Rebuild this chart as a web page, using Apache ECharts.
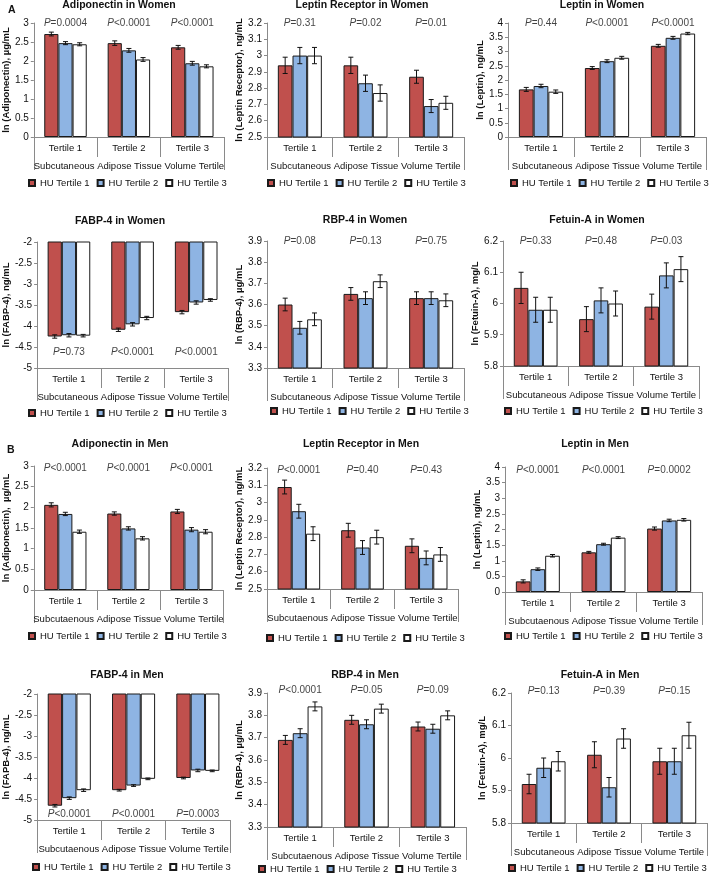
<!DOCTYPE html>
<html><head><meta charset="utf-8">
<script src="https://cdn.jsdelivr.net/npm/echarts@6/dist/echarts.min.js"></script>
<style>html,body{margin:0;padding:0;background:#fff}#c{width:709px;height:874px}</style>
</head><body><div id="c"></div><script>
// ---------- data ----------
const categories = ['Tertile 1', 'Tertile 2', 'Tertile 3'];
const huNames = ['HU Tertile 1', 'HU Tertile 2', 'HU Tertile 3'];
const satLabel = 'Subcutaneous Adipose Tissue Volume Tertile';
const satLabelTypo = 'Subcutaenous Adipose Tissue Volume Tertile';

const titles = ['Adiponectin in Women', 'Leptin Receptor in Women', 'Leptin in Women',
  'FABP-4 in Women', 'RBP-4 in Women', 'Fetuin-A in Women',
  'Adiponectin in Men', 'Leptin Receptor in Men', 'Leptin in Men',
  'FABP-4 in Men', 'RBP-4 in Men', 'Fetuin-A in Men'];
const yNames = ['ln (Adiponectin), µg/mL', 'ln (Leptin Receptor), ng/mL', 'ln (Leptin), ng/mL',
  'ln (FABP-4), ng/mL', 'ln (RBP-4), µg/mL', 'ln (Fetuin-A), mg/L',
  'ln (Adiponectin),  µg/mL', 'ln (Leptin Receptor), ng/mL', 'ln (Leptin), ng/mL',
  'ln (FAPB-4), ng/mL', 'ln (RBP-4), µg/mL', 'ln (Fetuin-A), mg/L'];
const xSecondLabels = [satLabel, satLabel, satLabel, satLabel, satLabel, satLabel,
  satLabelTypo, satLabelTypo, satLabelTypo, satLabelTypo, satLabelTypo, satLabel];

// values: rows = HU tertile 1..3, columns = SAT tertile 1..3
const adipoW = [[2.71, 2.47, 2.36], [2.47, 2.28, 1.94], [2.44, 2.04, 1.86]];
const adipoWErr = [[0.05, 0.06, 0.05], [0.04, 0.05, 0.05], [0.04, 0.05, 0.04]];
const adipoWP = ['=0.0004', '<0.0001', '<0.0001'];
const adipoWAxis = [0, 3, 0.5];

const leprW = [[2.94, 2.94, 2.87], [3.00, 2.83, 2.69], [3.00, 2.77, 2.71]];
const leprWErr = [[0.05, 0.05, 0.04], [0.05, 0.05, 0.04], [0.05, 0.05, 0.04]];
const leprWP = ['=0.31', '=0.02', '=0.01'];
const leprWAxis = [2.5, 3.2, 0.1];

const leptinW = [[1.67, 2.42, 3.20], [1.79, 2.66, 3.48], [1.59, 2.78, 3.63]];
const leptinWErr = [[0.07, 0.05, 0.05], [0.06, 0.05, 0.05], [0.06, 0.05, 0.04]];
const leptinWP = ['=0.44', '<0.0001', '<0.0001'];
const leptinWAxis = [0, 4, 0.5];

const fabpW = [[-4.25, -4.09, -3.67], [-4.22, -3.96, -3.44], [-4.23, -3.81, -3.38]];
const fabpWErr = [[0.04, 0.04, 0.04], [0.04, 0.04, 0.04], [0.03, 0.04, 0.03]];
const fabpWP = ['=0.73', '<0.0001', '<0.0001'];
const fabpWAxis = [-5, -2, 0.5];

const rbpW = [[3.60, 3.65, 3.63], [3.49, 3.63, 3.63], [3.53, 3.71, 3.62]];
const rbpWErr = [[0.03, 0.03, 0.03], [0.03, 0.03, 0.03], [0.03, 0.03, 0.03]];
const rbpWP = ['=0.08', '=0.13', '=0.75'];
const rbpWAxis = [3.3, 3.9, 0.1];

const fetuinW = [[6.05, 5.95, 5.99], [5.98, 6.01, 6.09], [5.98, 6.00, 6.11]];
const fetuinWErr = [[0.05, 0.04, 0.04], [0.04, 0.04, 0.04], [0.04, 0.04, 0.04]];
const fetuinWP = ['=0.33', '=0.48', '=0.03'];
const fetuinWAxis = [5.8, 6.2, 0.1];

const adipoM = [[2.06, 1.85, 1.90], [1.84, 1.49, 1.46], [1.41, 1.25, 1.41]];
const adipoMErr = [[0.05, 0.04, 0.05], [0.04, 0.04, 0.05], [0.04, 0.04, 0.05]];
const adipoMP = ['<0.0001', '<0.0001', '<0.0001'];
const adipoMAxis = [0, 3, 0.5];

const leprM = [[3.09, 2.84, 2.75], [2.95, 2.74, 2.68], [2.82, 2.80, 2.70]];
const leprMErr = [[0.04, 0.04, 0.04], [0.04, 0.04, 0.04], [0.04, 0.04, 0.04]];
const leprMP = ['<0.0001', '=0.40', '=0.43'];
const leprMAxis = [2.5, 3.2, 0.1];

const leptinM = [[0.34, 1.27, 2.03], [0.73, 1.53, 2.29], [1.16, 1.74, 2.31]];
const leptinMErr = [[0.05, 0.03, 0.05], [0.04, 0.03, 0.04], [0.04, 0.03, 0.04]];
const leptinMP = ['<0.0001', '<0.0001', '=0.0002'];
const leptinMAxis = [0, 4, 0.5];

const fabpM = [[-4.66, -4.29, -4.00], [-4.48, -4.18, -3.82], [-4.29, -4.02, -3.83]];
const fabpMErr = [[0.03, 0.02, 0.02], [0.03, 0.02, 0.03], [0.03, 0.02, 0.02]];
const fabpMP = ['<0.0001', '<0.0001', '=0.0003'];
const fabpMAxis = [-5, -2, 0.5];

const rbpM = [[3.69, 3.78, 3.75], [3.72, 3.76, 3.74], [3.84, 3.83, 3.80]];
const rbpMErr = [[0.02, 0.02, 0.02], [0.02, 0.02, 0.02], [0.02, 0.02, 0.02]];
const rbpMP = ['<0.0001', '=0.05', '=0.09'];
const rbpMAxis = [3.3, 3.9, 0.1];

const fetuinM = [[5.92, 6.01, 5.99], [5.97, 5.91, 5.99], [5.99, 6.06, 6.07]];
const fetuinMErr = [[0.03, 0.04, 0.04], [0.03, 0.03, 0.04], [0.03, 0.03, 0.04]];
const fetuinMP = ['=0.13', '=0.39', '=0.15'];
const fetuinMAxis = [5.8, 6.2, 0.1];

const panelValues = [adipoW, leprW, leptinW, fabpW, rbpW, fetuinW, adipoM, leprM, leptinM, fabpM, rbpM, fetuinM];
const panelErrors = [adipoWErr, leprWErr, leptinWErr, fabpWErr, rbpWErr, fetuinWErr, adipoMErr, leprMErr, leptinMErr, fabpMErr, rbpMErr, fetuinMErr];
const panelP = [adipoWP, leprWP, leptinWP, fabpWP, rbpWP, fetuinWP, adipoMP, leprMP, leptinMP, fabpMP, rbpMP, fetuinMP];
const panelAxis = [adipoWAxis, leprWAxis, leptinWAxis, fabpWAxis, rbpWAxis, fetuinWAxis, adipoMAxis, leprMAxis, leptinMAxis, fabpMAxis, rbpMAxis, fetuinMAxis];

// ---------- layout / style ----------
const layout = [
  {grid: [29, 23, 195, 114], title: [119, 6], legend: [28, 184], nameGap: 19, pFrac: 1},
  {grid: [267, 23, 197, 114], title: [362, 6], legend: [267, 184], nameGap: 23, pFrac: 1},
  {grid: [508, 23, 198, 114], title: [602, 6], legend: [510, 184], nameGap: 21, pFrac: 1},
  {grid: [29, 242, 199, 126], title: [120, 222], legend: [28, 414], nameGap: 20, pFrac: 0.127},
  {grid: [267, 241, 197, 127], title: [365, 221], legend: [270, 412], nameGap: 23, pFrac: 1},
  {grid: [503, 241, 196, 125], title: [597, 221], legend: [504, 412], nameGap: 20, pFrac: 1},
  {grid: [31, 466, 192, 124], title: [120, 445], legend: [28, 637], nameGap: 20, pFrac: 0.985},
  {grid: [267, 468, 191, 121], title: [361, 445], legend: [266, 639], nameGap: 23, pFrac: 0.985},
  {grid: [505, 467, 197, 125], title: [595, 445], legend: [504, 637], nameGap: 22, pFrac: 0.973},
  {grid: [31, 694, 199, 126], title: [127, 676], legend: [32, 868], nameGap: 20, pFrac: 0.047},
  {grid: [267, 693, 199, 134], title: [365, 676], legend: [258, 870], nameGap: 15, pFrac: 1.02},
  {grid: [511, 693, 196, 130], title: [600, 676], legend: [508, 869], nameGap: 24, pFrac: 1.01}
];
const FONT = 'Liberation Sans, Arial, sans-serif';
const TXT = '#111';
const AXC = '#8a8a8a';
const barColors = ['#C0504D', '#8EB4E3', '#FFFFFF'];
const CAT_GAP = 0.33;

function fmt(v) { return String(+v.toFixed(2)); }

function errRender(params, api) {
  const cat = api.value(0), k = api.value(1), v = api.value(2), e = api.value(3);
  const band = api.size([1, 0])[0];
  const bw = band * (1 - CAT_GAP) / 3;
  const c = api.coord([cat, v]);
  const x = c[0] + (k - 1) * bw;
  const y1 = api.coord([cat, v + e])[1];
  const y2 = api.coord([cat, v - e])[1];
  const cap = 2.5;
  const style = {stroke: '#111', lineWidth: 1};
  return {type: 'group', children: [
    {type: 'line', shape: {x1: x, y1: y1, x2: x, y2: y2}, style: style},
    {type: 'line', shape: {x1: x - cap, y1: y1, x2: x + cap, y2: y1}, style: style},
    {type: 'line', shape: {x1: x - cap, y1: y2, x2: x + cap, y2: y2}, style: style}
  ]};
}

const option = {
  animation: false,
  backgroundColor: '#fff',
  textStyle: {fontFamily: FONT},
  title: [
    {text: 'A', left: 3, top: 0, textStyle: {fontSize: 10.5, fontWeight: 'bold', color: TXT, fontFamily: FONT}},
    {text: 'B', left: 2, top: 440, textStyle: {fontSize: 10.5, fontWeight: 'bold', color: TXT, fontFamily: FONT}}
  ],
  grid: [], xAxis: [], yAxis: [], legend: [], series: []
};

layout.forEach(function (L, i) {
  const ax = panelAxis[i];
  option.grid.push({left: L.grid[0], top: L.grid[1], width: L.grid[2], height: L.grid[3]});
  option.title.push({
    text: titles[i], left: L.title[0], top: L.title[1] - 6, textAlign: 'center', padding: 0,
    textStyle: {fontSize: 10.5, fontWeight: 'bold', color: TXT, fontFamily: FONT}
  });
  option.legend.push({
    data: huNames.slice(), left: L.legend[0], top: L.legend[1] - 6, padding: 0,
    icon: 'rect', itemWidth: 6, itemHeight: 6, itemGap: 7, selectedMode: false,
    textStyle: {fontSize: 9.5, color: TXT, fontFamily: FONT}
  });
  option.xAxis.push({
    type: 'category', gridIndex: i, data: categories, position: 'bottom',
    axisLine: {show: true, onZero: false, lineStyle: {color: AXC, width: 1}},
    axisTick: {show: true, length: 20, alignWithLabel: false, interval: 0, lineStyle: {color: AXC}},
    axisLabel: {margin: 6, fontSize: 9.5, color: TXT, fontFamily: FONT, interval: 0},
    splitLine: {show: false}
  });
  option.xAxis.push({
    type: 'category', gridIndex: i, data: [xSecondLabels[i]], position: 'bottom',
    axisLine: {show: false, onZero: false},
    axisTick: {show: true, length: 33, alignWithLabel: false, lineStyle: {color: AXC}},
    axisLabel: {margin: 24, fontSize: 9.5, color: TXT, fontFamily: FONT, interval: 0},
    splitLine: {show: false}
  });
  option.yAxis.push({
    type: 'value', gridIndex: i, min: ax[0], max: ax[1], interval: ax[2],
    name: yNames[i], nameLocation: 'middle', nameGap: L.nameGap,
    nameTextStyle: {fontSize: 9.5, fontWeight: 'bold', color: TXT, fontFamily: FONT},
    axisLine: {show: true, lineStyle: {color: AXC, width: 1}},
    axisTick: {show: true, length: 3, lineStyle: {color: AXC}},
    axisLabel: {margin: 5, fontSize: 10, color: TXT, fontFamily: FONT, formatter: fmt},
    splitLine: {show: false}
  });
  const vals = panelValues[i], errs = panelErrors[i];
  for (let k = 0; k < 3; k++) {
    option.series.push({
      type: 'bar', name: huNames[k], xAxisIndex: 2 * i, yAxisIndex: i,
      data: vals[k], barGap: '0%', barCategoryGap: (CAT_GAP * 100) + '%', clip: true,
      itemStyle: {color: barColors[k], borderColor: '#1a1a1a', borderWidth: 1},
      emphasis: {disabled: true}
    });
  }
  const errData = [];
  for (let k = 0; k < 3; k++) for (let c = 0; c < 3; c++) errData.push([c, k, vals[k][c], errs[k][c]]);
  option.series.push({
    type: 'custom', xAxisIndex: 2 * i, yAxisIndex: i, renderItem: errRender,
    dimensions: ['cat', 'k', 'v', 'e'], encode: {x: 'cat', y: 'v'}, data: errData, z: 5, silent: true
  });
  const py = ax[0] + L.pFrac * (ax[1] - ax[0]);
  option.series.push({
    type: 'scatter', xAxisIndex: 2 * i, yAxisIndex: i, symbolSize: 0, clip: false, silent: true,
    data: panelP[i].map(function (p, c) { return [c, py, p]; }),
    encode: {x: 0, y: 1},
    label: {show: true, position: 'inside', fontSize: 10, color: TXT, fontFamily: FONT,
      formatter: function (p) { return '{i|P}' + p.value[2]; },
      rich: {i: {fontStyle: 'italic', fontSize: 10, color: TXT, fontFamily: FONT}}},
    z: 6
  });
});

const chart = echarts.init(document.getElementById('c'), null, {renderer: 'canvas'});
chart.setOption(option);
</script></body></html>
